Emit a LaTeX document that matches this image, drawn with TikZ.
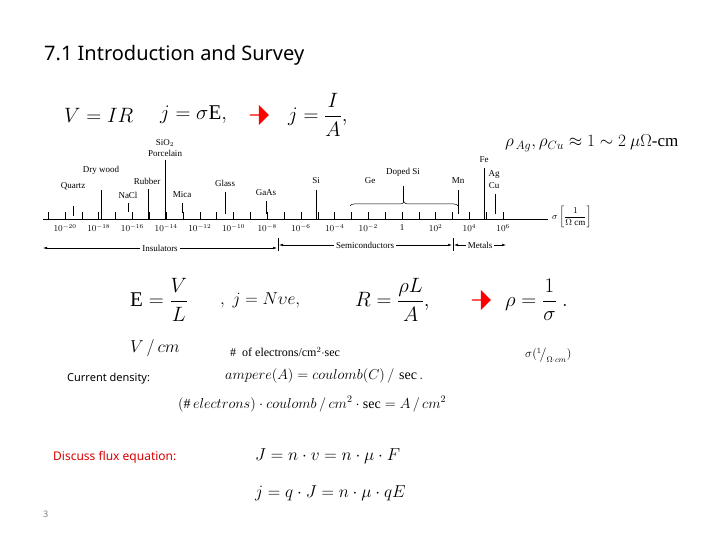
\documentclass[tikz,border=0pt]{standalone}
\usepackage{fontspec}
\usepackage{amsmath}
\setmainfont{Liberation Serif}
\newfontfamily\slidesf{Noto Sans}
\usetikzlibrary{arrows.meta,decorations.pathreplacing,shapes.arrows}
\begin{document}
\begin{tikzpicture}[x=1pt,y=-1pt,
  eq/.style={anchor=west,inner sep=0pt,font=\fontsize{21}{24}\selectfont},
  eqs/.style={anchor=west,inner sep=0pt,font=\fontsize{14}{16}\selectfont},
  lab/.style={inner sep=0pt,font=\fontsize{9}{10}\selectfont},
  redarr/.style={single arrow,fill=red,draw=none,minimum width=20pt,single arrow head extend=3pt,minimum height=19pt,inner sep=0pt},
  tk/.style={line width=0.5pt},
  scl/.style={-{Latex[length=4pt,width=2.5pt]},line width=0.5pt}]
\useasboundingbox (0,0) rectangle (720,540);
\fill[white] (0,0) rectangle (720,540);
\node[anchor=west,inner sep=0pt,font=\slidesf\bfseries\fontsize{20}{24}\selectfont] (title) at (44,55) {7.1 Introduction and Survey};
% row 1
\node[eq] (vir) at (64,115) {$V=IR$};
\node[eq] (jse) at (160,115) {$j=\sigma\mathrm{E},$};
\node[redarr] (ar1) at (259,115) {};
\node[eq] (jia) at (288,115) {$j=\dfrac{I}{A},$};
\node[eqs,font=\fontsize{17}{20}\selectfont] (rho) at (505,143) {$\rho_{\,Ag},\rho_{Cu}\approx 1\sim 2\ \mu\Omega\text{-cm}$};
% scale
\draw[line width=0.7pt] (43,219) coordinate (axl) -- (548,219) coordinate (axr);
\foreach \d in {-21,...,6} {\draw[line width=0.5pt] ({65+16.85*(\d+20)},212) -- ({65+16.85*(\d+20)},219);}
\foreach \d in {-20,-18,...,-2} {\node[lab] at ({65+16.85*(\d+20)},228) {$10^{\d}$};}
\node[lab] (one) at ({65+16.85*20},228) {1};
\foreach \d in {2,4,6} {\node[lab] at ({65+16.85*(\d+20)},228) {$10^{\d}$};}
\node[lab,anchor=west] (sig) at (552,217) {$\sigma\left[\dfrac{1}{\Omega\ \mathrm{cm}}\right]$};
% materials
\node[lab] (quartz) at (73,186) {Quartz}; \draw[tk] (73,206) -- (73,216);
\node[lab] (dry) at (101,170) {Dry wood}; \draw[tk] (101,190) -- (101,219);
\node[lab] (nacl) at (128,195) {NaCl}; \draw[tk] (128,203) -- (128,212);
\node[lab] (rub) at (147,181) {Rubber}; \draw[tk] (148,189) -- (148,219);
\node[lab] (sio) at (165,143) {SiO$_2$}; \node[lab] (porc) at (165,153) {Porcelain}; \draw[tk] (165,160) -- (165,219);
\node[lab] (mica) at (182,195) {Mica}; \draw[tk] (182,203) -- (182,213);
\node[lab] (glass) at (225,183) {Glass}; \draw[tk] (225,192) -- (225,214);
\node[lab] (gaas) at (266,193) {GaAs}; \draw[tk] (266,201) -- (266,214);
\node[lab] (si) at (316,181) {Si}; \draw[tk] (316,190) -- (316,219);
\node[lab] (ge) at (370,181) {Ge};
\node[lab] (dsi) at (403,172) {Doped Si};
\draw[tk,decorate,decoration={brace,amplitude=4pt}] (350,206) -- (458,206);
\draw[tk] (403,202) -- (403,186);
\node[lab] (mn) at (458,181) {Mn}; \draw[tk] (458,190) -- (458,214);
\node[lab] (fe) at (484,160) {Fe}; \draw[tk] (484,168) -- (484,219);
\node[lab] (ag) at (494,175) {Ag}; \node[lab] (cu) at (494,186) {Cu}; \draw[tk] (495,194) -- (495,214);
% classes
\draw[tk] (278,238) -- (278,251); \draw[tk] (453,238) -- (453,251);
\node[lab,fill=white,inner xsep=2pt] (ins) at (160,248) {Insulators};
\node[lab,fill=white,inner xsep=2pt] (semi) at (365,245) {Semiconductors};
\node[lab,fill=white,inner xsep=2pt] (met) at (480,245) {Metals};
\draw[scl] (ins.west) -- (43,248);
\draw[scl] (ins.east) -- (277,248);
\draw[scl] (semi.west) -- (279,245);
\draw[scl] (semi.east) -- (452,245);
\draw[scl] (met.west) -- (454,245);
\draw[scl] (met.east) -- (506,245);
% row 2
\node[eq] (evl) at (130,300) {$\mathrm{E}=\dfrac{V}{L}$};
\node[eq,font=\fontsize{19}{22}\selectfont] (jnve) at (220,300) {$,\ j=N\upsilon e,$};
\node[eq] (rla) at (355,300) {$R=\dfrac{\rho L}{A},$};
\node[redarr] (ar2) at (481,300) {};
\node[eq] (rs) at (505,300) {$\rho=\dfrac{1}{\sigma}\ .$};
\node[eq,font=\fontsize{19}{22}\selectfont] (vcm) at (130,348) {$V\,/\,cm$};
\node[eqs,font=\fontsize{12}{14}\selectfont] (noe) at (230,352) {\#\ \ of electrons/cm$^2\cdot$sec};
\node[eqs,font=\fontsize{12}{14}\selectfont] (sunit) at (525,355) {$\sigma({}^{1}\!\big/_{\Omega\cdot cm})$};
\node[anchor=west,inner sep=0pt,font=\slidesf\fontsize{11}{13}\selectfont] (cd) at (67,379) {Current density:};
\node[eqs] (amp) at (225,376) {$ampere(A)=coulomb(C)\,/\,\sec.$};
\node[eqs] (ecl) at (178,404) {$(\#\,electrons)\cdot coulomb\,/\,cm^2\cdot\sec=A\,/\,cm^2$};
\node[anchor=west,inner sep=0pt,text=red!85!black,font=\slidesf\fontsize{12}{14}\selectfont] (disc) at (53,457) {Discuss flux equation:};
\node[eq,font=\fontsize{19}{22}\selectfont] (fl1) at (255,456) {$J=n\cdot v=n\cdot\mu\cdot F$};
\node[eq,font=\fontsize{19}{22}\selectfont] (fl2) at (255,493) {$j=q\cdot J=n\cdot\mu\cdot qE$};
\node[anchor=west,inner sep=0pt,text=gray,font=\slidesf\fontsize{9}{10}\selectfont] (pg) at (43,514) {3};
\end{tikzpicture}
\end{document}
